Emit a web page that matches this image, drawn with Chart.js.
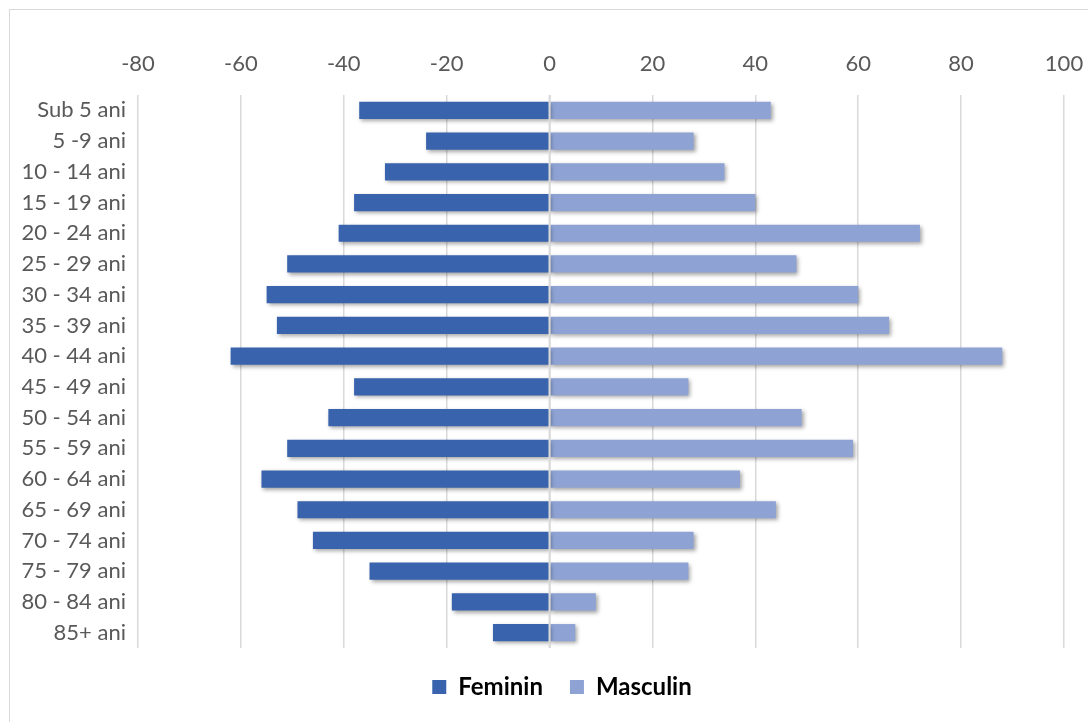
<!DOCTYPE html>
<html>
<head>
<meta charset="utf-8">
<script src="https://cdn.jsdelivr.net/npm/chart.js@4"></script>
<style>
  html, body { margin: 0; padding: 0; background: #fff; }
  #wrap { position: relative; width: 1088px; height: 722px; overflow: hidden; }
  #frame { position: absolute; left: 9px; top: 9px; width: 1200px; height: 800px;
           border-left: 1px solid #d9d9d9; border-top: 1px solid #d9d9d9; }
  canvas { position: absolute; left: 0; top: 0; }
</style>
</head>
<body>
<div id="wrap">
  <div id="frame"></div>
  <canvas id="c" width="1088" height="722"></canvas>
</div>
<script>
const categories = ['Sub 5 ani', '5 -9 ani', '10 - 14 ani', '15 - 19 ani', '20 - 24 ani',
    '25 - 29 ani', '30 - 34 ani', '35 - 39 ani', '40 - 44 ani', '45 - 49 ani', '50 - 54 ani',
    '55 - 59 ani', '60 - 64 ani', '65 - 69 ani', '70 - 74 ani', '75 - 79 ani', '80 - 84 ani', '85+ ani'];
const feminin = [-37, -24, -32, -38, -41, -51, -55, -53, -62, -38, -43, -51, -56, -49, -46, -35, -19, -11];
const masculin = [43, 28, 34, 40, 72, 48, 60, 66, 88, 27, 49, 59, 37, 44, 28, 27, 9, 5];
const xTicks = [-80, -60, -40, -20, 0, 20, 40, 60, 80, 100];

// soft drop shadow under the bars, like the Excel original
const shadowPlugin = {
    id: 'barShadow',
    afterLayout(chart) {
        // legend sits a bit right of the canvas centre in the original
        chart.legend.left += 30;
        chart.legend.right += 30;
    },
    beforeDatasetsDraw(chart) {
        const ctx = chart.ctx;
        ctx.save();
        ctx.shadowColor = 'rgba(0,0,0,0.35)';
        ctx.shadowBlur = 4;
        ctx.shadowOffsetX = 2;
        ctx.shadowOffsetY = 2;
    },
    afterDatasetsDraw(chart) {
        const ctx = chart.ctx;
        ctx.restore();
        // the zero gridline shows through between the two bar halves
        const x = chart.scales.x.getPixelForValue(0);
        ctx.save();
        ctx.strokeStyle = '#d9d9d9';
        ctx.lineWidth = 2;
        ctx.beginPath();
        ctx.moveTo(x, chart.chartArea.top);
        ctx.lineTo(x, chart.chartArea.bottom);
        ctx.stroke();
        ctx.restore();
    }
};

new Chart(document.getElementById('c'), {
    type: 'bar',
    data: {
        labels: categories,
        datasets: [{
            label: 'Feminin',
            data: feminin,
            backgroundColor: '#3a63ad',
            barPercentage: 0.56,
            categoryPercentage: 1
        }, {
            label: 'Masculin',
            data: masculin,
            backgroundColor: '#8ea3d4',
            barPercentage: 0.56,
            categoryPercentage: 1
        }]
    },
    options: {
        indexAxis: 'y',
        responsive: false,
        animation: false,
        layout: { padding: { top: 0, right: 24, bottom: 13, left: 0 } },
        scales: {
            x: {
                position: 'top',
                min: -80,
                max: 100,
                afterBuildTicks: function(scale) {
                    scale.ticks = xTicks.map(v => ({ value: v }));
                },
                afterFit: function(scale) {
                    scale.height = 95;
                    scale.paddingLeft = 0;
                    scale.paddingRight = 0;
                },
                grid: { color: '#d9d9d9', lineWidth: 1.5, drawTicks: false },
                border: { display: false },
                ticks: {
                    padding: 18,
                    color: '#595959',
                    font: { family: 'Lato', size: 22 }
                }
            },
            y: {
                stacked: true,
                afterFit: function(scale) { scale.width = 138; },
                grid: { display: false, drawTicks: false },
                border: { display: false },
                ticks: {
                    padding: 12,
                    color: '#595959',
                    font: { family: 'Lato', size: 22 }
                }
            }
        },
        plugins: {
            legend: {
                position: 'bottom',
                labels: {
                    boxWidth: 14,
                    boxHeight: 14,
                    padding: 27,
                    color: '#000',
                    font: { family: 'Lato', size: 24, weight: 'bold' }
                }
            },
            tooltip: { enabled: false }
        }
    },
    plugins: [shadowPlugin]
});
</script>
</body>
</html>
